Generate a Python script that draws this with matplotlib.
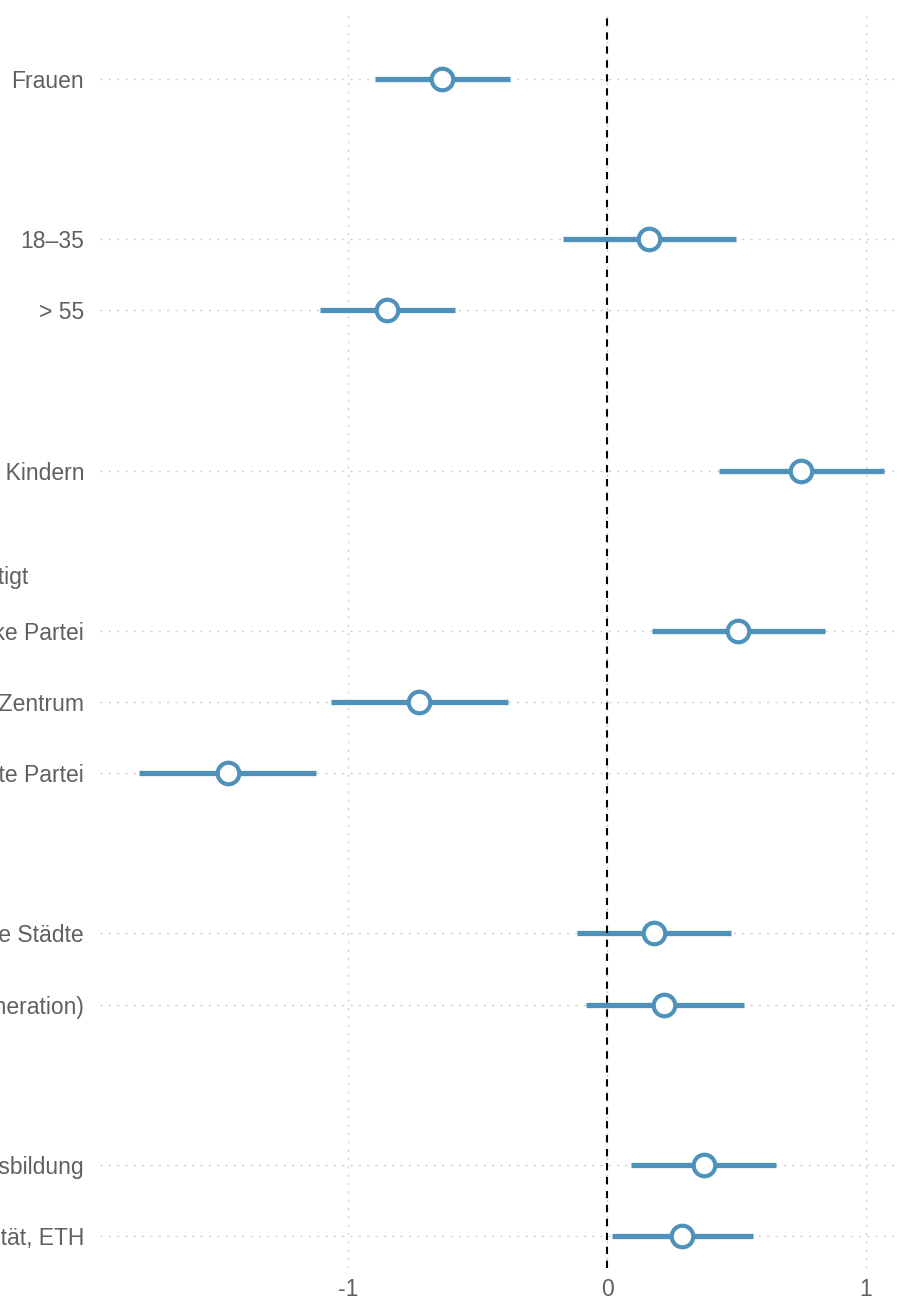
import matplotlib
matplotlib.use("Agg")
import matplotlib.pyplot as plt
import matplotlib.transforms as mtransforms

plt.rcParams['font.family'] = ['Liberation Sans', 'DejaVu Sans']

# Effekte (Koeffizienten mit 95%-Intervall), nach Variablengruppen
group_titles = ["Geschlecht", "Alter", "Haushalt",
                "Parteinähe, Teilnahme bestätigt", "Wohnort", "Bildung"]
group_labels = [
    ["Frauen"],
    ["18–35", "> 55"],
    ["Haushalt mit Kindern"],
    ["Linke Partei", "Partei im Zentrum", "Rechte Partei"],
    ["Grosse Städte", "Vororte (Agglomeration)"],
    ["Höhere Berufsausbildung", "Universität, ETH"],
]
estimate = [-0.638, 0.162, -0.851, 0.750, 0.507, -0.727, -1.466,
            0.182, 0.220, 0.375, 0.290]
ci_low = [-0.897, -0.170, -1.110, 0.433, 0.174, -1.068, -1.810,
          -0.116, -0.081, 0.093, 0.019]
ci_high = [-0.375, 0.499, -0.588, 1.072, 0.843, -0.383, -1.126,
           0.480, 0.530, 0.654, 0.565]

blue = '#4e92bc'
grey_txt = '#606060'

# Zeilenpositionen: jede Gruppe beginnt mit einer Titelzeile
ypos, labels, title_pos = [], [], []
y = 0.0
for gi, rows in enumerate(group_labels):
    if gi > 0:
        y += 2.25
    title_pos.append(y - 0.75)
    for j, lab in enumerate(rows):
        if j > 0:
            y += 1.0
        ypos.append(y)
        labels.append(lab)

fig = plt.figure(figsize=(9.05, 12.97), dpi=100)
ax = fig.add_axes([100 / 905, 29 / 1297, 800 / 905, 1255 / 1297])

ax.hlines(ypos, ci_low, ci_high, color=blue, lw=3.8, zorder=3)
ax.plot(estimate, ypos, 'o', ms=15.5, mfc='white', mec=blue, mew=3.0,
        zorder=5, linestyle='')
ax.axvline(0, color='black', lw=1.5, ls=(0, (3.5, 3.2)), zorder=4)

ax.set_xlim(-1.961, 1.133)
ax.set_ylim(16.70, -0.927)
ax.set_xticks([-1, 0, 1])
ax.set_xticklabels(['-1', '0', '1'])
ax.set_yticks(ypos)
ax.set_yticklabels(labels)

ax.grid(True, color='#cccccc', lw=1.0, ls=(0, (1.5, 4.5)), zorder=0)
ax.set_axisbelow(True)
for s in ax.spines.values():
    s.set_visible(False)
ax.tick_params(axis='both', length=0, labelsize=16.5, colors=grey_txt)
ax.tick_params(axis='y', pad=11.5)
ax.tick_params(axis='x', pad=7)

# Gruppentitel links ausgerichtet, gemeinsamer Einzug
trans = mtransforms.blended_transform_factory(fig.transFigure, ax.transData)
titles = [fig.text(0, yp, t, transform=trans, ha='left', va='center',
                   fontsize=16.5, color=grey_txt)
          for t, yp in zip(group_titles, title_pos)]
fig.canvas.draw()
w = titles[3].get_window_extent().width
x0 = (28 - w) / 905
for t in titles:
    t.set_x(x0)

fig.savefig('out.png', dpi=100)
